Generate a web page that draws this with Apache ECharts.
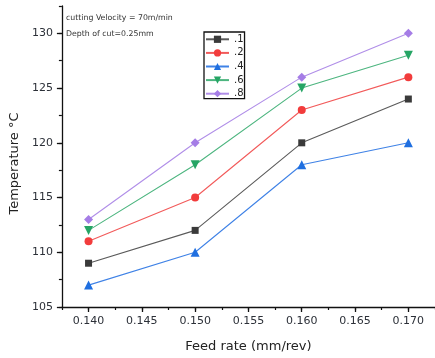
<!DOCTYPE html>
<html><head><meta charset="utf-8">
<script src="https://cdn.jsdelivr.net/npm/echarts@6/dist/echarts.min.js"></script>
<style>html,body{margin:0;padding:0;background:#fff}#c{width:435px;height:358px}</style>
</head><body><div id="c"></div>
<script>
const feedRates = [0.140, 0.150, 0.160, 0.170];
const seriesNames = ['.1', '.2', '.4', '.6', '.8'];
const s1 = [109, 112, 120, 124];
const s2 = [111, 115, 123, 126];
const s4 = [107, 110, 118, 120];
const s6 = [112, 118, 125, 128];
const s8 = [113, 120, 126, 130];
const xTickLabels = ['0.140','0.145','0.150','0.155','0.160','0.165','0.170'];
const yTickLabels = ['105','110','115','120','125','130'];
const note1 = 'cutting Velocity = 70m/min';
const note2 = 'Depth of cut=0.25mm';

const styles = [
  {color:'#3a3a3a', line:'#5a5a5a', symbol:'rect', size:7, rot:0},
  {color:'#f23c3c', line:'#f25a5a', symbol:'circle', size:8, rot:0},
  {color:'#1f6fe0', line:'#3f82e6', symbol:'triangle', size:9, rot:0},
  {color:'#26a565', line:'#4cb57f', symbol:'triangle', size:9, rot:180},
  {color:'#a57de6', line:'#b08ee8', symbol:'diamond', size:9, rot:0}
];
const allData = [s1, s2, s4, s6, s8];
const series = allData.map((arr, i) => ({
  name: seriesNames[i], type: 'line',
  xAxisIndex: 0, yAxisIndex: 0,
  data: arr.map((v, j) => [feedRates[j], v]),
  symbol: styles[i].symbol, symbolSize: styles[i].size, symbolRotate: styles[i].rot,
  itemStyle: {color: styles[i].color},
  lineStyle: {color: styles[i].line, width: 1.1},
  emphasis: {disabled: true}, animation: false, z: 3
}));
const font = '"DejaVu Sans", Verdana, sans-serif';
const chart = echarts.init(document.getElementById('c'));
chart.setOption({
  animation: false,
  backgroundColor: '#fff',
  grid: {left: 61, right: -4, top: 6, bottom: 47, containLabel: false},
  xAxis: [{
    type: 'value', min: 0.1375, max: 0.1725, position: 'bottom',
    axisLine: {show: true, onZero: false, lineStyle: {color: '#111', width: 1.3}},
    axisTick: {show: true, length: 5, inside: false, lineStyle: {color: '#111', width: 1.3},
      customValues: xTickLabels.map(Number)},
    axisLabel: {show: true, customValues: xTickLabels.map(Number), formatter: v => v.toFixed(3),
      color: '#2c3038', fontSize: 11, fontFamily: font, margin: 9},
    splitLine: {show: false},
    name: 'Feed rate (mm/rev)', nameLocation: 'middle', nameGap: 33,
    nameTextStyle: {color: '#222', fontSize: 13, fontFamily: font}
  }, {
    type: 'value', min: 0.1375, max: 0.1725, interval: 0.0025, position: 'bottom',
    axisLine: {show: false, onZero: false},
    axisTick: {show: true, length: 3, lineStyle: {color: '#111', width: 1.2}},
    axisLabel: {show: false}, splitLine: {show: false}
  }],
  yAxis: [{
    type: 'value', min: 105, max: 132.5, position: 'left',
    axisLine: {show: true, onZero: false, lineStyle: {color: '#111', width: 1.3}},
    axisTick: {show: true, length: 5, lineStyle: {color: '#111', width: 1.3},
      customValues: yTickLabels.map(Number)},
    axisLabel: {show: true, customValues: yTickLabels.map(Number),
      color: '#2c3038', fontSize: 11, fontFamily: font, margin: 9},
    splitLine: {show: false},
    name: 'Temperature °C', nameLocation: 'middle', nameGap: 40,
    nameTextStyle: {color: '#222', fontSize: 13, fontFamily: font, padding: [0, 14, 0, 0]}
  }, {
    type: 'value', min: 105, max: 132.5, interval: 2.5, position: 'left',
    axisLine: {show: false, onZero: false},
    axisTick: {show: true, length: 3, lineStyle: {color: '#111', width: 1.2}},
    axisLabel: {show: false}, splitLine: {show: false}
  }],
  legend: {
    show: true, orient: 'vertical', left: 204, top: 32,
    data: seriesNames,
    itemWidth: 23, itemHeight: 9, itemGap: 3.6,
    padding: [2.3, 1, 0, 1],
    borderColor: '#111', borderWidth: 1.3,
    textStyle: {color: '#222', fontSize: 10, lineHeight: 10, fontFamily: font},
    selectedMode: false
  },
  graphic: [
    {type: 'text', left: 66, top: 14, style: {text: note1, fill: '#333', font: '7.8px ' + font}},
    {type: 'text', left: 66, top: 30, style: {text: note2, fill: '#333', font: '7.8px ' + font}}
  ],
  series: series
});
</script></body></html>
